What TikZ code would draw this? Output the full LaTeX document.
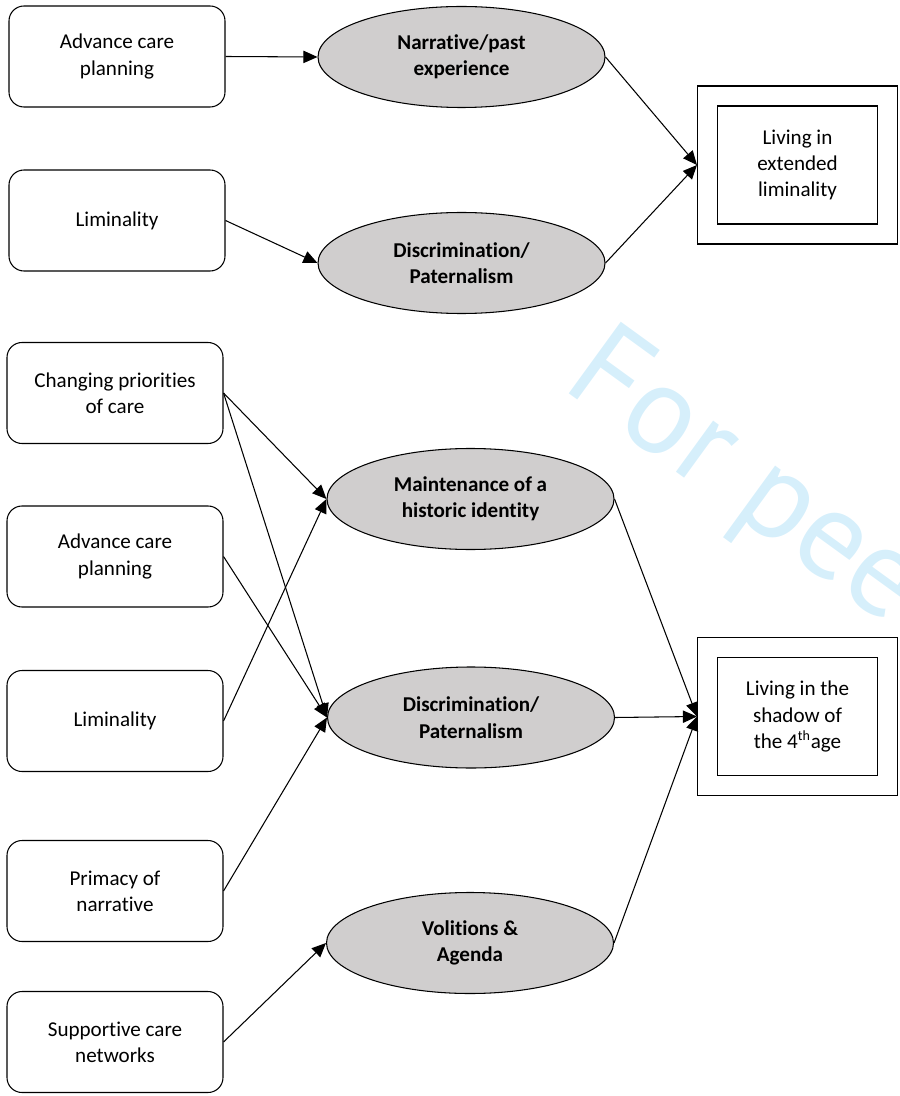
\documentclass[tikz,border=0pt]{standalone}
\usepackage{fontspec}
\setmainfont{Carlito}[Ligatures={NoCommon,NoContextual}]
\newfontfamily\wmfont{PT Sans}
\usepackage{tikz}
\usetikzlibrary{shapes.geometric,arrows.meta}
\definecolor{ovalgrey}{RGB}{208,206,206}
\definecolor{wmblue}{RGB}{214,239,251}

\begin{document}
\begin{tikzpicture}[>={Triangle[length=8pt,width=7pt]}, line width=0.6pt]
        \tikzstyle{every node} = [font=\fontsize{12}{15}\selectfont, align=center]
        \tikzstyle{theme} = [draw, rounded corners=0.3cm, minimum width=4.32cm, minimum height=2.02cm]
        \tikzstyle{oval} = [draw, ellipse, fill=ovalgrey, inner sep=0pt, minimum width=5.74cm, minimum height=2.02cm, font=\fontsize{12}{15}\selectfont\bfseries]
        \tikzstyle{outer} = [draw, minimum width=4cm, minimum height=3.16cm]
        \tikzstyle{inner} = [draw, minimum width=3.2cm, minimum height=2.36cm]
        \clip (0,0) rectangle (17.98,-21.92);
        % watermark
        \node[anchor=base west, inner sep=0pt, rotate=-36, text=wmblue, font=\wmfont\fontsize{72}{72}\selectfont] (wm) at (11.2,-7.75) {For pee};
        % first group
        \node[theme] (acp1) at (2.34,-1.13) {Advance care\\planning};
        \node[theme] (lim1) at (2.34,-4.41) {Liminality};
        \node[oval] (nar) at (9.23,-1.14) {Narrative/past\\experience};
        \node[oval] (dis1) at (9.23,-5.26) {Discrimination/\\Paternalism};
        \node[outer] (liv1) at (15.95,-3.30) {};
        \node[inner] (liv1t) at (15.95,-3.30) {Living in\\extended\\liminality};
        % second group
        \node[theme] (cpc) at (2.30,-7.86) {Changing priorities\\of care};
        \node[theme] (acp2) at (2.30,-11.13) {Advance care\\planning};
        \node[theme] (lim2) at (2.30,-14.42) {Liminality};
        \node[theme] (pri) at (2.30,-17.82) {Primacy of\\narrative};
        \node[theme] (sup) at (2.30,-20.84) {Supportive care\\networks};
        \node[oval] (mhi) at (9.41,-9.98) {Maintenance of a\\historic identity};
        \node[oval] (dis2) at (9.42,-14.35) {Discrimination/\\Paternalism};
        \node[oval] (vol) at (9.40,-18.86) {Volitions \&\\Agenda};
        \node[outer] (liv2) at (15.95,-14.33) {};
        \node[inner] (liv2t) at (15.95,-14.33) {Living in the\\shadow of\\the 4\textsuperscript{th}age};
        \foreach \from/\to in {acp1/nar, lim1/dis1, nar/liv1, dis1/liv1,
                cpc/mhi, cpc/dis2, acp2/dis2, lim2/mhi, pri/dis2, sup/vol,
                mhi/liv2, dis2/liv2, vol/liv2}
            \draw[->] (\from.east) -- (\to.west);
    \end{tikzpicture}
\end{document}
